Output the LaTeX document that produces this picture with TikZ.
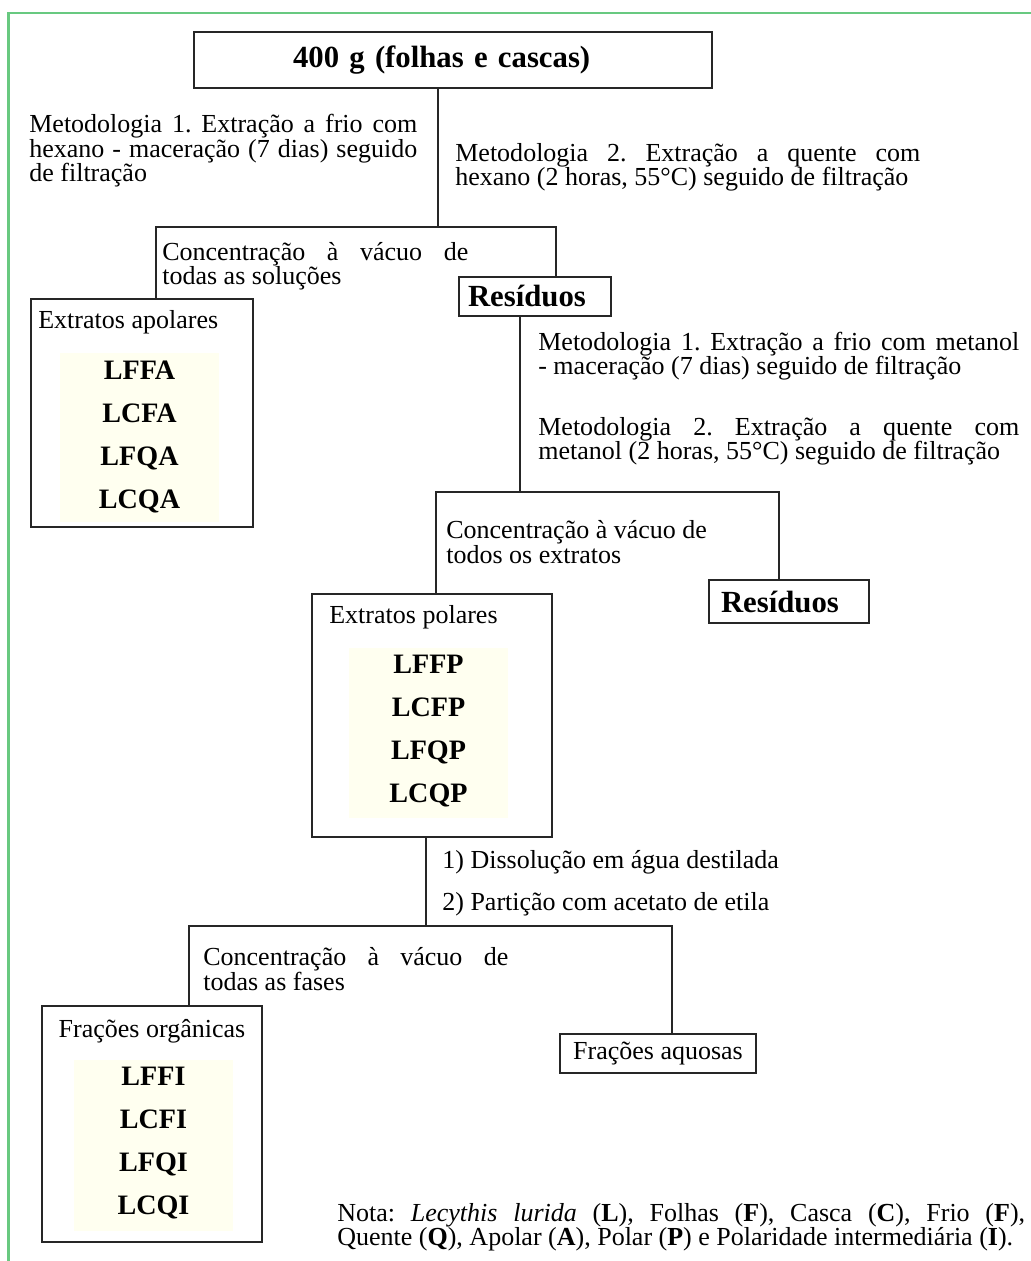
\documentclass[tikz,border=0pt]{standalone}
\usepackage{fontspec}
\setmainfont{Liberation Serif}
\usetikzlibrary{calc}
\hyphenpenalty=10000
\exhyphenpenalty=10000
\frenchspacing
\definecolor{codebg}{RGB}{255,255,240}
\definecolor{framegreen}{RGB}{104,201,128}
\tikzset{
    box/.style={draw=black!85, line width=0.7pt, inner sep=0pt},
    link/.style={draw=black!85, line width=0.7pt},
    txt/.style={font=\fontsize{14.8}{13.9}\selectfont, inner sep=0pt, anchor=west},
    jtxt/.style={txt, align=justify},
    head/.style={box, font=\fontsize{17.5}{20}\selectfont\bfseries, align=left},
    code/.style={font=\fontsize{16}{18}\selectfont\bfseries, inner sep=0pt, anchor=base},
    codebox/.style={fill=codebg, inner sep=0pt},
}

\begin{document}
\begin{tikzpicture}[x=0.02cm, y=-0.02cm]
    \useasboundingbox (0,0) rectangle (1031,1261);
    % page frame
    \draw[framegreen, line width=1.2pt] (8.5,1261) -- (8.5,13) -- (1031,13);

    % starting material
    \node[head, text width=6.4cm, inner xsep=1.98cm, minimum height=1.12cm] (src) at (453,60) {400 g (folhas e cascas)};
    \node[jtxt, text width=7.76cm] (met1hex) at (29,151)
        {Metodologia 1. Extração a frio com\linebreak hexano - maceração (7 dias) seguido\linebreak de filtração};
    \node[jtxt, text width=9.3cm] (met2hex) at (455,167)
        {Metodologia 2. Extração a quente com\linebreak hexano (2 horas, 55°C) seguido de filtração};
    \node[jtxt, text width=6.12cm] (conc1) at (162,266)
        {Concentração à vácuo de\linebreak todas as soluções};

    % apolar extracts
    \node[box, minimum width=4.44cm, minimum height=4.56cm] (apolar) at (142,413) {};
    \node[txt, anchor=base west] (apolt) at (38,328) {Extratos apolares};
    \node[codebox, minimum width=3.18cm, minimum height=3.38cm] (abg) at (139.5,437.5) {};
    \foreach \lab [count=\i] in {LFFA,LCFA,LFQA,LCQA}
        \node[code] (a\i) at (139.5,{379+43*(\i-1)}) {\lab};

    % first residue
    \node[head, text width=2.68cm, inner xsep=0.18cm, minimum height=0.78cm] (res1) at (535,296.5) {Resíduos};
    \node[jtxt, text width=9.62cm] (met1met) at (538,356)
        {Metodologia 1. Extração a frio com metanol\linebreak - maceração (7 dias) seguido de filtração};
    \node[jtxt, text width=9.62cm] (met2met) at (538,441)
        {Metodologia 2. Extração a quente com\linebreak metanol (2 horas, 55°C) seguido de filtração};
    \node[txt, align=left] (conc2) at (446,542) {Concentração à vácuo de\\todos os extratos};

    % polar extracts
    \node[box, minimum width=4.8cm, minimum height=4.86cm] (polar) at (432,715.5) {};
    \node[txt, anchor=base west] (polt) at (329,623) {Extratos polares};
    \node[codebox, minimum width=3.18cm, minimum height=3.4cm] (pbg) at (428.5,733) {};
    \foreach \lab [count=\i] in {LFFP,LCFP,LFQP,LCQP}
        \node[code] (p\i) at (428.5,{673+43*(\i-1)}) {\lab};

    % second residue
    \node[head, text width=2.72cm, inner xsep=0.24cm, minimum height=0.86cm] (res2) at (789,601.5) {Resíduos};

    % partition
    \node[txt] (diss) at (442,862) {1) Dissolução em água destilada};
    \node[txt] (part) at (442,904) {2) Partição com acetato de etila};
    \node[jtxt, text width=6.1cm] (conc3) at (203,969)
        {Concentração à vácuo de\linebreak todas as fases};

    % organic fractions
    \node[box, minimum width=4.4cm, minimum height=4.72cm] (org) at (152,1124) {};
    \node[txt, anchor=base] (orgt) at (152,1037) {Frações orgânicas};
    \node[codebox, minimum width=3.18cm, minimum height=3.42cm] (obg) at (153.5,1145.5) {};
    \foreach \lab [count=\i] in {LFFI,LCFI,LFQI,LCQI}
        \node[code] (o\i) at (153.5,{1085+43*(\i-1)}) {\lab};

    % aqueous fractions
    \node[box, font=\fontsize{14.8}{13.9}\selectfont, minimum width=3.92cm, minimum height=0.78cm] (aq) at (658,1053.5) {Frações aquosas};

    % note
    \node[jtxt, text width=13.76cm] (nota) at (337,1227)
        {Nota: \textit{Lecythis lurida} (\textbf{L}), Folhas (\textbf{F}), Casca (\textbf{C}), Frio (\textbf{F}),\linebreak Quente (\textbf{Q}), Apolar (\textbf{A}), Polar (\textbf{P}) e Polaridade intermediária (\textbf{I}).};

    % connectors
    \coordinate (j1) at (438,227);
    \coordinate (ja) at (156,227);
    \coordinate (jb) at (556,227);
    \draw[link] (src.south -| j1) -- (j1);
    \draw[link] (apolar.north -| ja) -- (ja) -- (jb) -- (res1.north -| jb);

    \coordinate (j2) at (520,492);
    \coordinate (jc) at (436,492);
    \coordinate (jd) at (779,492);
    \draw[link] (res1.south -| j2) -- (j2);
    \draw[link] (polar.north -| jc) -- (jc) -- (jd) -- (res2.north -| jd);

    \coordinate (j3) at (426,926);
    \coordinate (je) at (189,926);
    \coordinate (jf) at (672,926);
    \draw[link] (polar.south -| j3) -- (j3);
    \draw[link] (org.north -| je) -- (je) -- (jf) -- (aq.north -| jf);
\end{tikzpicture}
\end{document}
